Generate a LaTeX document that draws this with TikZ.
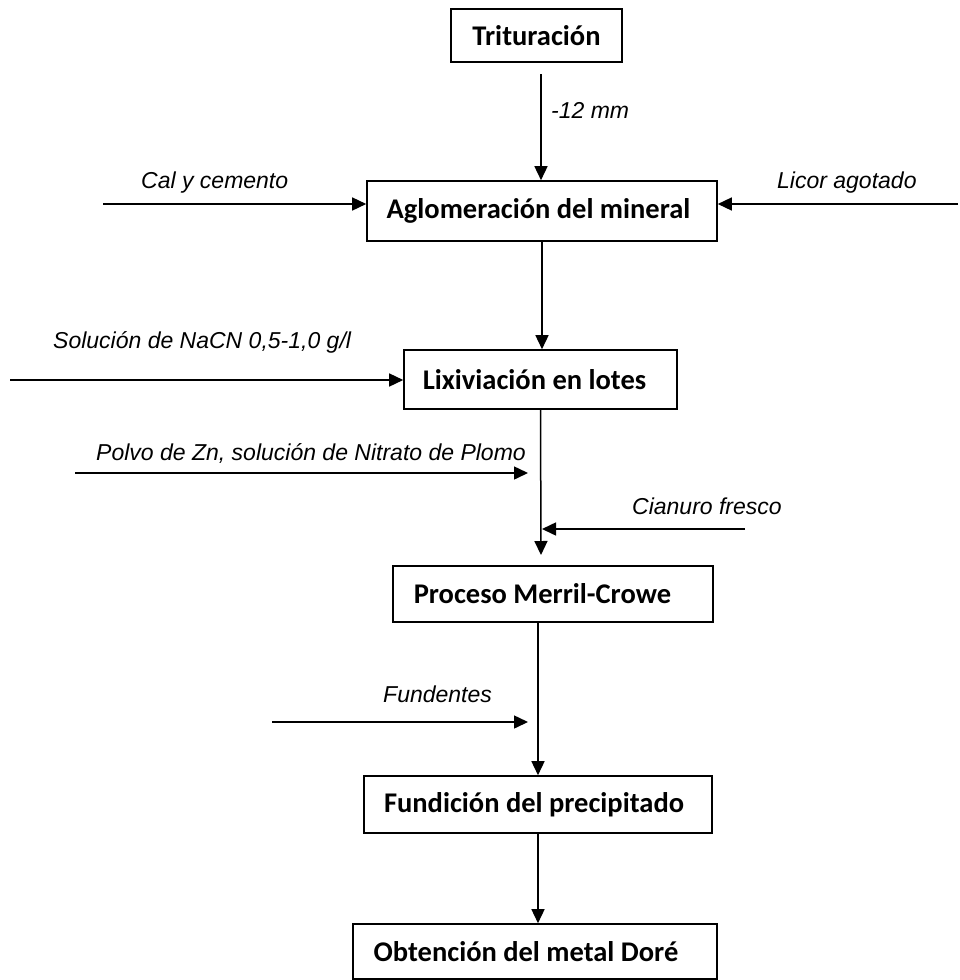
\documentclass[tikz,border=0pt]{standalone}
\usepackage{fontspec}
\setmainfont{Carlito}
\newfontfamily\arialfont{Liberation Sans}
\usetikzlibrary{arrows.meta}
\begin{document}
\begin{tikzpicture}[x=1pt,y=-1pt,
  procbox/.style={draw, line width=1.6pt, inner sep=0pt, font=\bfseries\fontsize{28.5}{32}\selectfont},
  lbl/.style={inner sep=0pt, font=\arialfont\itshape\fontsize{23}{27}\selectfont},
  arr/.style={line width=1.5pt, -{Triangle[length=14pt,width=13pt]}}]
\useasboundingbox (0,0) rectangle (960,980);
% boxes
\node[procbox, minimum width=171pt, minimum height=53pt] (tri) at (536.5,35.5) {Trituración};
\node[procbox, minimum width=350pt, minimum height=60pt] (aglom) at (542,211) {\hspace*{-7pt}Aglomeración del mineral};
\node[procbox, minimum width=273pt, minimum height=59pt] (lix) at (540.5,379.5) {\hspace*{-12pt}Lixiviación en lotes};
\node[procbox, minimum width=320pt, minimum height=56pt] (merril) at (553,594) {\hspace*{-21pt}Proceso Merril-Crowe};
\node[procbox, minimum width=348pt, minimum height=57pt] (fund) at (538,804.5) {\hspace*{-8pt}Fundición del precipitado};
\node[procbox, minimum width=364pt, minimum height=55pt] (obt) at (535,951.5) {\hspace*{-18pt}Obtención del metal Doré};
% free ends
\coordinate (triout) at (541,74);
\coordinate (calin) at (103,204);
\coordinate (licin) at (958,204);
\coordinate (nacnin) at (10,380);
\coordinate (lixend) at (541,555);
\coordinate (polvoin) at (75,473);
\coordinate (polvoend) at (528,473);
\coordinate (cianin) at (745,529);
\coordinate (cianend) at (542,529);
\coordinate (fundin) at (272,722);
\coordinate (fundend) at (528,722);
% connectors
\draw[arr] (triout) -- (triout |- aglom.north);
\draw[arr] (calin) -- (calin -| aglom.west);
\draw[arr] (licin) -- (licin -| aglom.east);
\draw[arr] (aglom.south) -- (aglom.south |- lix.north);
\draw[arr] (nacnin) -- (nacnin -| lix.west);
\draw[arr] (lix.south) -- (lixend);
\draw[arr] (polvoin) -- (polvoend);
\draw[arr] (cianin) -- (cianend);
\draw[arr] (fund.north |- merril.south) -- (fund.north);
\draw[arr] (fundin) -- (fundend);
\draw[arr] (fund.south) -- (fund.south |- obt.north);
% labels
\node[lbl, anchor=base west] (l12) at (551,118) {-12 mm};
\node[lbl, anchor=base west] (lcal) at (141,188) {Cal y cemento};
\node[lbl, anchor=base west] (llic) at (777,188) {Licor agotado};
\node[lbl, anchor=base west] (lnacn) at (53,348) {Solución de NaCN 0,5-1,0 g/l};
\node[lbl, anchor=base east] (lpolvo) at (526,460) {Polvo de Zn, solución de Nitrato de Plomo};
\node[lbl, anchor=base west] (lcian) at (632,514) {Cianuro fresco};
\node[lbl, anchor=base west] (lfund) at (383,702) {Fundentes};
\end{tikzpicture}
\end{document}
